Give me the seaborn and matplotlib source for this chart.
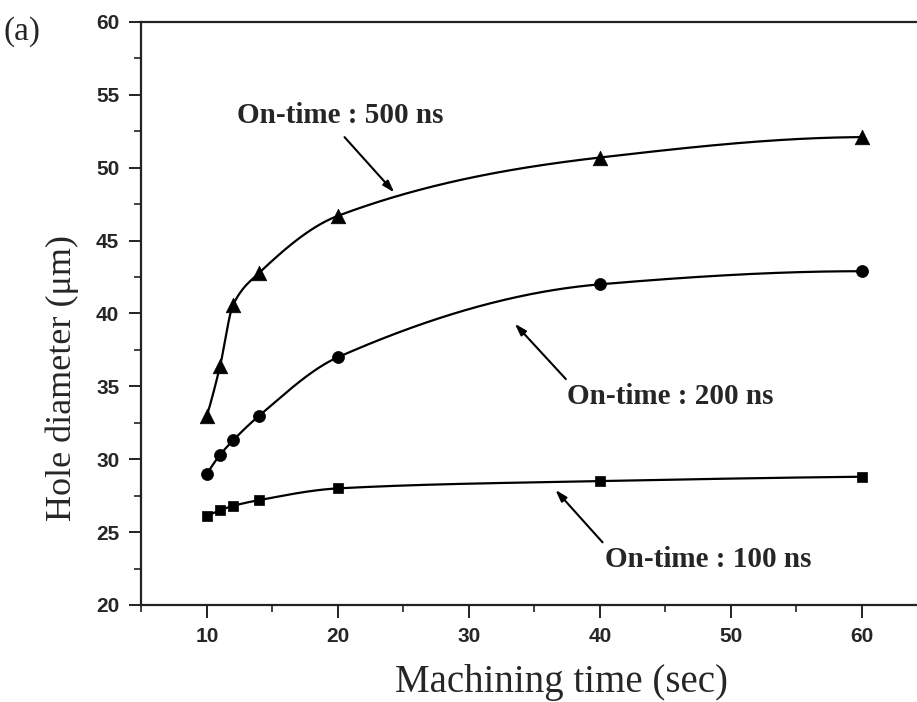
import numpy as np
import pandas as pd
import seaborn as sns
import matplotlib
matplotlib.use("Agg")
import matplotlib.pyplot as plt
from matplotlib.ticker import MultipleLocator

# Data

machining_time = [10, 11, 12, 14, 20, 40, 60]
dia_500ns = [33.0, 36.4, 40.6, 42.8, 46.7, 50.7, 52.1]
dia_200ns = [29.0, 30.3, 31.3, 33.0, 37.0, 42.0, 42.9]
dia_100ns = [26.1, 26.5, 26.8, 27.2, 28.0, 28.5, 28.8]

series_labels = ["On-time : 500 ns", "On-time : 200 ns", "On-time : 100 ns"]

# Smooth monotone curve through the points (PCHIP, numpy only)

def pchip(x, y, xs):
    x = np.asarray(x, float)
    y = np.asarray(y, float)
    h = np.diff(x)
    delta = np.diff(y) / h
    n = len(x)
    d = np.zeros(n)
    for k in range(1, n - 1):
        if delta[k - 1] * delta[k] > 0:
            w1 = 2 * h[k] + h[k - 1]
            w2 = h[k] + 2 * h[k - 1]
            d[k] = (w1 + w2) / (w1 / delta[k - 1] + w2 / delta[k])
    def end(h0, h1, d0, d1):
        v = ((2 * h0 + h1) * d0 - h0 * d1) / (h0 + h1)
        if np.sign(v) != np.sign(d0):
            v = 0.0
        elif np.sign(d0) != np.sign(d1) and abs(v) > abs(3 * d0):
            v = 3 * d0
        return v
    d[0] = end(h[0], h[1], delta[0], delta[1])
    d[-1] = end(h[-1], h[-2], delta[-1], delta[-2])
    idx = np.clip(np.searchsorted(x, xs) - 1, 0, n - 2)
    t = (xs - x[idx]) / h[idx]
    h00 = 2 * t**3 - 3 * t**2 + 1
    h10 = t**3 - 2 * t**2 + t
    h01 = -2 * t**3 + 3 * t**2
    h11 = t**3 - t**2
    return (h00 * y[idx] + h10 * h[idx] * d[idx]
            + h01 * y[idx + 1] + h11 * h[idx] * d[idx + 1])

xs = np.linspace(machining_time[0], machining_time[-1], 400)

#----------------------------PLOT------------------------

sns.set_style("ticks")
plt.rcParams['font.family'] = ['Liberation Sans', 'DejaVu Sans']

fig = plt.figure(figsize=(9.17, 7.02), dpi=100)
ax = fig.add_axes([0.1543, 0.1382, 0.857, 0.8305])

markers = ['^', 'o', 's']
sizes = [110, 75, 55]
for vals, m, s in zip([dia_500ns, dia_200ns, dia_100ns], markers, sizes):
    sns.lineplot(x=xs, y=pchip(machining_time, vals, xs), ax=ax,
                 color='black', linewidth=1.6)
    sns.scatterplot(x=machining_time, y=vals, ax=ax, marker=m, s=s,
                    color='black', edgecolor='black', linewidth=0.5, zorder=3)

ax.set_xlim(5, 65)
ax.set_ylim(20, 60)
ax.xaxis.set_major_locator(MultipleLocator(10))
ax.xaxis.set_minor_locator(MultipleLocator(5))
ax.yaxis.set_major_locator(MultipleLocator(5))
ax.yaxis.set_minor_locator(MultipleLocator(2.5))

for side in ['left', 'bottom', 'top', 'right']:
    ax.spines[side].set_linewidth(1.6)
    ax.spines[side].set_color('#222222')

ax.tick_params(which='major', direction='out', length=9, width=1.4,
               labelsize=15, color='#222222', pad=7)
ax.tick_params(which='minor', direction='out', length=5, width=1.2,
               color='#222222')
for lab in ax.get_xticklabels() + ax.get_yticklabels():
    lab.set_fontweight('bold')

ax.set_xlabel("Machining time (sec)", fontsize=28, family='Liberation Serif')
ax.set_ylabel("Hole diameter (\u03bcm)", fontsize=26, family='Liberation Serif')
ax.xaxis.set_label_coords(0.534, -0.102)
ax.yaxis.set_label_coords(-0.08, 0.39)

arrow = dict(arrowstyle='-|>,head_length=0.7,head_width=0.22', color='black',
             lw=1.5, shrinkA=0, shrinkB=0)
ann_font = dict(fontsize=21, fontweight='bold', family='Liberation Serif')

ax.annotate(series_labels[0], xy=(24.3, 48.3), xytext=(12.3, 53.6),
            textcoords='data', ha='left', va='center', **ann_font)
ax.annotate("", xy=(24.3, 48.3), xytext=(20.5, 52.1), arrowprops=arrow)

ax.annotate(series_labels[1], xy=(33.5, 39.3), xytext=(37.5, 34.3),
            ha='left', va='center', **ann_font)
ax.annotate("", xy=(33.5, 39.3), xytext=(37.4, 35.5), arrowprops=arrow)

ax.annotate(series_labels[2], xy=(36.6, 27.9), xytext=(40.4, 23.1),
            ha='left', va='center', **ann_font)
ax.annotate("", xy=(36.6, 27.9), xytext=(40.2, 24.3), arrowprops=arrow)

fig.text(0.004, 0.955, "(a)", fontsize=24, family='Liberation Serif',
         ha='left', va='center')

fig.savefig("out.png", dpi=100)
